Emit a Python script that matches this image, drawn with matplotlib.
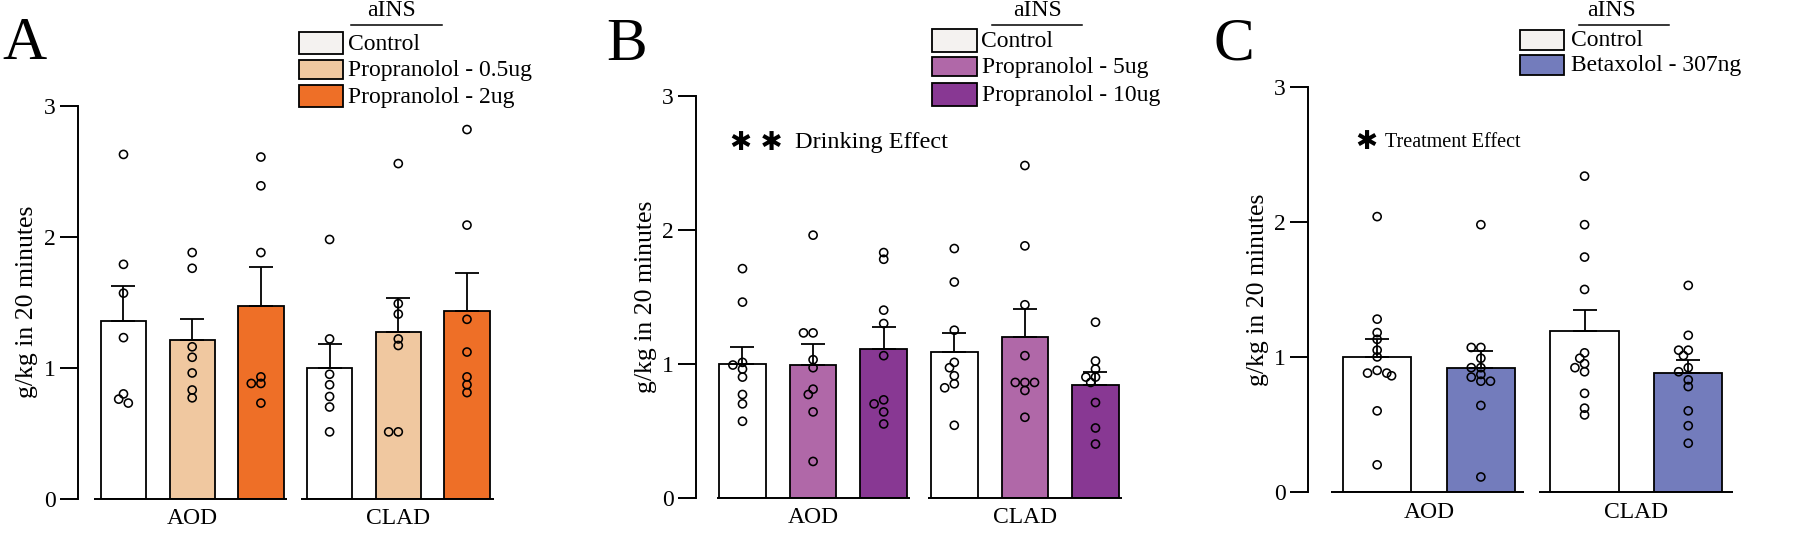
import numpy as np
import matplotlib
matplotlib.use("Agg")
import matplotlib.pyplot as plt
from matplotlib.patches import Rectangle
from matplotlib.lines import Line2D

plt.rcParams['font.family'] = ['Liberation Serif', 'DejaVu Sans']

W, H = 1800, 533
groups = ['AOD', 'CLAD']

# ---- Panel A: propranolol low doses
a_labels = ['Control', 'Propranolol - 0.5ug', 'Propranolol - 2ug']
a_colors = ['#ffffff', '#f0c8a0', '#ee6f27']
a_mean = [1.36, 1.21, 1.47, 1.00, 1.27, 1.43]
a_sem = [0.265, 0.162, 0.303, 0.183, 0.264, 0.291]
a_points = [
    [2.63, 1.79, 1.57, 1.23, 0.80, 0.76, 0.73],
    [1.88, 1.76, 1.16, 1.08, 0.96, 0.83, 0.77],
    [2.61, 2.39, 1.88, 0.93, 0.88, 0.88, 0.73],
    [1.98, 1.22, 0.95, 0.87, 0.78, 0.70, 0.51],
    [2.56, 1.49, 1.41, 1.22, 1.17, 0.51, 0.51],
    [2.82, 2.09, 1.37, 1.12, 0.93, 0.87, 0.81],
]

# ---- Panel B: propranolol high doses
b_labels = ['Control', 'Propranolol - 5ug', 'Propranolol - 10ug']
b_colors = ['#ffffff', '#b068a8', '#883893']
b_mean = [1.00, 0.99, 1.11, 1.09, 1.20, 0.84]
b_sem = [0.125, 0.156, 0.163, 0.137, 0.210, 0.095]
b_points = [
    [1.71, 1.46, 1.01, 0.99, 0.96, 0.90, 0.77, 0.70, 0.57],
    [1.96, 1.23, 1.23, 1.03, 0.97, 0.81, 0.77, 0.64, 0.27],
    [1.83, 1.78, 1.40, 1.30, 1.06, 0.73, 0.70, 0.64, 0.55],
    [1.86, 1.61, 1.25, 1.01, 0.97, 0.91, 0.85, 0.82, 0.54],
    [2.48, 1.88, 1.44, 1.06, 0.86, 0.86, 0.86, 0.80, 0.60],
    [1.31, 1.02, 0.96, 0.90, 0.90, 0.86, 0.71, 0.52, 0.40],
]

# ---- Panel C: betaxolol
c_labels = ['Control', 'Betaxolol - 307ng']
c_colors = ['#ffffff', '#737cbc']
c_mean = [1.00, 0.92, 1.19, 0.88]
c_sem = [0.132, 0.121, 0.161, 0.098]
c_points = [
    [2.04, 1.28, 1.18, 1.13, 1.05, 1.00, 0.90, 0.88, 0.88, 0.86, 0.60, 0.20],
    [1.98, 1.07, 1.07, 0.99, 0.92, 0.92, 0.87, 0.85, 0.82, 0.82, 0.64, 0.11],
    [2.34, 1.98, 1.74, 1.50, 1.03, 0.99, 0.95, 0.92, 0.89, 0.73, 0.62, 0.57],
    [1.53, 1.16, 1.05, 1.05, 1.01, 0.92, 0.89, 0.83, 0.78, 0.60, 0.49, 0.36],
]

legend_fill = {'#ffffff': '#f4f2f0'}


def swarm(vals, ppx, ppy, d=8.0):
    """horizontal offsets (data units) so circles don't pile up"""
    placed = []
    offs = np.zeros(len(vals))
    for i in np.argsort(vals)[::-1]:
        y = vals[i] * ppy
        for k in [0, -1, 1, -2, 2, -3, 3]:
            x = k * 0.6 * d
            if all((x - px) ** 2 + (y - py) ** 2 >= (0.8 * d) ** 2 for px, py in placed):
                break
        placed.append((x, y))
        offs[i] = x / ppx
    return offs


def panel(left, top, bottom, xlim, ppx, colors, means, sems, points, segs, centers):
    right = left + (xlim[1] - xlim[0]) * ppx
    ax = fig.add_axes([left / W, 1 - bottom / H, (right - left) / W, (bottom - top) / H])
    ppy = (bottom - top) / 3.0
    n = len(means)
    x = np.arange(n)
    cols = [colors[i % len(colors)] for i in range(n)]
    ax.bar(x, means, width=0.66, color=cols, edgecolor='black', linewidth=1.3, zorder=2)
    ax.errorbar(x, means, yerr=[np.zeros(n), sems], fmt='none', ecolor='black',
                elinewidth=1.3, capsize=8.5, capthick=1.3, zorder=3)
    for i, vals in enumerate(points):
        offs = swarm(np.array(vals), ppx, ppy)
        ax.scatter(x[i] + offs, vals, s=34, facecolors='none', edgecolors='black',
                   linewidths=1.15, zorder=4)
    for s0, s1 in segs:
        ax.plot([s0, s1], [0, 0], color='black', lw=1.4, clip_on=False,
                solid_capstyle='butt', zorder=5)
    ax.set_xlim(*xlim)
    ax.set_ylim(0, 3)
    for sp in ['top', 'right', 'bottom']:
        ax.spines[sp].set_visible(False)
    ax.spines['left'].set_linewidth(1.4)
    ax.set_yticks([0, 1, 2, 3])
    ax.tick_params(axis='y', length=13, width=1.4, labelsize=17, pad=3)
    ax.set_xticks(centers)
    ax.set_xticklabels(groups)
    ax.tick_params(axis='x', length=0, labelsize=17, pad=7)
    ax.patch.set_alpha(0)
    return ax


def legend(px, rows, tx, title_x, line_x, labels, colors, size=17):
    for (r0, r1), lab, c in zip(rows, labels, colors):
        fig.add_artist(Rectangle((px[0] / W, 1 - r1 / H), (px[1] - px[0]) / W, (r1 - r0) / H,
                                 transform=fig.transFigure, facecolor=legend_fill.get(c, c),
                                 edgecolor='black', linewidth=1.3))
        fig.text(tx / W, 1 - ((r0 + r1) / 2 + 1) / H, lab, ha='left', va='center', fontsize=size)
    fig.text(title_x / W, 1 - 11 / H, 'aINS', ha='center', va='center', fontsize=size)
    fig.add_artist(Line2D([line_x[0] / W, line_x[1] / W], [1 - 24.5 / H] * 2,
                          color='black', lw=1.1))


fig = plt.figure(figsize=(18, 5.33), dpi=100)

# A
axA = panel(77.6, 106, 498.6, (-0.668, 5.39), 68.7, a_colors, a_mean, a_sem, a_points,
            [(-0.43, 2.38), (2.58, 5.39)], [1, 4])
legend((299, 343), [(32, 54), (60, 79), (85, 107)], 348, 391, (351, 442),
       a_labels, a_colors)
fig.text(2 / W, 1 - 59 / H, 'A', fontsize=44, va='baseline', ha='left')
fig.text(27 / W, 1 - 302 / H, 'g/kg in 20 minutes', rotation=90, ha='center', va='center',
         fontsize=18.5)

# B
axB = panel(695.9, 95.9, 497.6, (-0.66, 5.37), 70.6, b_colors, b_mean, b_sem, b_points,
            [(-0.357, 2.37), (2.63, 5.37)], [1, 4])
legend((932, 977), [(29.5, 51.5), (57, 76), (83, 106)], 981.5, 1037, (992, 1082),
       b_labels, b_colors)
fig.text(606 / W, 1 - 59.5 / H, 'B', fontsize=44, va='baseline', ha='left')
fig.text(646 / W, 1 - 297 / H, 'g/kg in 20 minutes', rotation=90, ha='center', va='center',
         fontsize=18.5)
axB.text(-0.18, 2.65, '\u2731 \u2731', family='DejaVu Sans', fontsize=19, va='center', ha='left')
axB.text(0.74, 2.65, 'Drinking Effect', fontsize=17.5, va='center', ha='left')

# C
axC = panel(1308.2, 87.1, 491.8, (-0.665, 3.43), 103.7, c_colors, c_mean, c_sem, c_points,
            [(-0.445, 1.414), (1.565, 3.43)], [0.5, 2.5])
legend((1520, 1564), [(30, 50), (55, 75)], 1571, 1611, (1579, 1669),
       c_labels, c_colors)
fig.text(1214 / W, 1 - 59.5 / H, 'C', fontsize=44, va='baseline', ha='left')
fig.text(1257.8 / W, 1 - 290 / H, 'g/kg in 20 minutes', rotation=90, ha='center', va='center',
         fontsize=18.5)
axC.text(-0.21, 2.59, '\u2731', family='DejaVu Sans', fontsize=19, va='center', ha='left')
axC.text(0.08, 2.59, 'Treatment Effect', fontsize=14.5, va='center', ha='left')

fig.savefig('out.png', dpi=100)
